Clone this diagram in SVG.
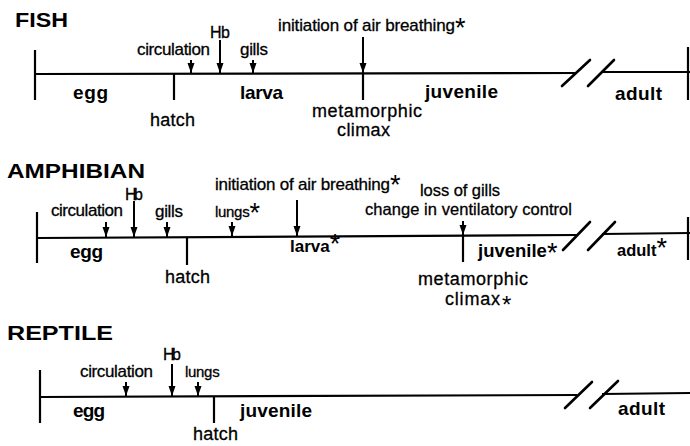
<svg xmlns="http://www.w3.org/2000/svg" width="690" height="446" viewBox="0 0 690 446">
<defs>
<marker id="ah" markerUnits="userSpaceOnUse" markerWidth="11" markerHeight="8" refX="10" refY="3.5" orient="auto">
<path d="M0,0 L10,3.5 L0,7 z" fill="#000"/>
</marker>
<style>
.t{font-family:"Liberation Sans",Arial,sans-serif;fill:#000}
.title{font-size:21px;font-weight:bold}
.lab{font-size:17px;stroke:#000;stroke-width:0.3}
.hb{font-size:16px;stroke:#000;stroke-width:0.3}
.stage{font-size:19px;font-weight:bold}
.ast{font-size:27px;stroke:none;font-weight:normal;letter-spacing:0}
.axis{stroke:#000;stroke-width:2.2;fill:none}
.tick{stroke:#000;stroke-width:2.2}
.brk{stroke:#000;stroke-width:2.6;stroke-linecap:round}
.arr{stroke:#000;stroke-width:2;marker-end:url(#ah)}
</style>
</defs>
<rect width="690" height="446" fill="#fff"/>

<!-- FISH -->
<g id="fish">
<text class="t title" x="15" y="27" textLength="53" lengthAdjust="spacingAndGlyphs">FISH</text>
<path class="axis" d="M35,74 L577,73 M602,72 L690,72"/>
<line class="tick" x1="35" y1="50" x2="35" y2="100"/>
<line class="tick" x1="688" y1="47" x2="688" y2="100"/>
<line class="brk" x1="562" y1="86" x2="590" y2="60"/>
<line class="brk" x1="588" y1="86" x2="614" y2="60"/>
</g>
<g id="fish-circulation"><text class="t lab" x="137" y="55" textLength="73">circulation</text></g>
<g id="fish-hb"><text class="t hb" x="210" y="38" textLength="20">Hb</text></g>
<g id="fish-gills"><text class="t lab" x="240" y="55" textLength="28">gills</text></g>
<g id="fish-air"><text class="t lab" x="278" y="31" textLength="177">initiation of air breathing</text><text class="t ast" x="455" y="36.5">*</text></g>
<g id="fish-egg"><text class="t stage" x="73" y="99" textLength="35">egg</text></g>
<g id="fish-hatch"><line class="tick" x1="174" y1="74" x2="174" y2="100"/><text class="t lab" x="150" y="126" textLength="45" style="font-size:18px">hatch</text></g>
<g id="fish-larva"><text class="t stage" x="240" y="99" textLength="43">larva</text></g>
<g id="fish-meta"><line class="tick" x1="363" y1="74" x2="363" y2="100"/><text class="t lab" x="312" y="117" textLength="110" style="font-size:18px">metamorphic</text><text class="t lab" x="337" y="136" textLength="53" style="font-size:18px">climax</text></g>
<g id="fish-juvenile"><text class="t stage" x="425" y="98" textLength="73">juvenile</text></g>
<g id="fish-adult"><text class="t stage" x="615" y="100" textLength="47">adult</text></g>

<!-- AMPHIBIAN -->
<g id="amphibian">
<text class="t title" x="7" y="178" textLength="138" lengthAdjust="spacingAndGlyphs">AMPHIBIAN</text>
<path class="axis" d="M37,238 L577,235 M602,234 L690,233"/>
<line class="tick" x1="37" y1="212" x2="37" y2="263"/>
<line class="tick" x1="688" y1="217" x2="688" y2="260"/>
<line class="brk" x1="563" y1="250" x2="590" y2="222"/>
<line class="brk" x1="588" y1="250" x2="615" y2="222"/>
</g>
<g id="amph-circulation"><text class="t lab" x="51" y="216" textLength="72">circulation</text></g>
<g id="amph-hb"><text class="t hb" x="125" y="200" textLength="18">Hb</text></g>
<g id="amph-gills"><text class="t lab" x="155" y="217" textLength="28">gills</text></g>
<g id="amph-lungs"><text class="t lab" x="215" y="217" style="font-size:15px;letter-spacing:-0.3px">lungs<tspan class="ast" dy="5.3">*</tspan></text></g>
<g id="amph-air"><text class="t lab" x="215" y="190" textLength="175">initiation of air breathing</text><text class="t ast" x="390" y="194">*</text></g>
<g id="amph-egg"><text class="t stage" x="70" y="258" textLength="33">egg</text></g>
<g id="amph-hatch"><line class="tick" x1="187" y1="238" x2="187" y2="265"/><text class="t lab" x="165" y="283" textLength="45" style="font-size:18px">hatch</text></g>
<g id="amph-larva"><text class="t stage" x="290" y="252" style="font-size:17px">larva<tspan class="ast" dy="0.5">*</tspan></text></g>
<g id="amph-gillsloss"><text class="t lab" x="420" y="196" textLength="80" style="font-size:16.5px">loss of gills</text><text class="t lab" x="365" y="215" textLength="207" style="font-size:16.5px">change in ventilatory control</text></g>
<g id="amph-meta"><line class="tick" x1="463" y1="236" x2="463" y2="262"/><text class="t lab" x="418" y="285" textLength="110" style="font-size:18px">metamorphic</text><text class="t lab" x="445" y="305" textLength="55" style="font-size:18px">climax</text><text class="t ast" x="502" y="313" style="font-size:24px">*</text></g>
<g id="amph-juvenile"><text class="t stage" x="478" y="257" style="font-size:18.5px">juvenile<tspan class="ast" dy="4.5">*</tspan></text></g>
<g id="amph-adult"><text class="t stage" x="617" y="256" style="font-size:16.5px">adult<tspan class="ast" dy="0.5">*</tspan></text></g>

<!-- REPTILE -->
<g id="reptile">
<text class="t title" x="7" y="340" textLength="106" lengthAdjust="spacingAndGlyphs">REPTILE</text>
<path class="axis" d="M40,397 L577,395 M602,394 L690,393"/>
<line class="tick" x1="40" y1="370" x2="40" y2="423"/>
<line class="brk" x1="565" y1="408" x2="592" y2="382"/>
<line class="brk" x1="590" y1="408" x2="618" y2="381"/>
</g>
<g id="rep-circulation"><text class="t lab" x="80" y="377" textLength="73">circulation</text></g>
<g id="rep-hb"><text class="t hb" x="163" y="360" textLength="18">Hb</text></g>
<g id="rep-lungs"><text class="t lab" x="185" y="377" style="font-size:15px;letter-spacing:-0.3px">lungs</text></g>
<g id="rep-egg"><text class="t stage" x="73" y="417" textLength="32">egg</text></g>
<g id="rep-hatch"><line class="tick" x1="214" y1="397" x2="214" y2="423"/><text class="t lab" x="193" y="440" textLength="45" style="font-size:18px">hatch</text></g>
<g id="rep-juvenile"><text class="t stage" x="240" y="417" textLength="72">juvenile</text></g>
<g id="rep-adult"><text class="t stage" x="618" y="415" textLength="47">adult</text></g>

<!-- connectors -->
<g id="connectors">
<line class="arr" x1="191" y1="60" x2="191" y2="73"/>
<line class="arr" x1="220" y1="40" x2="220" y2="73"/>
<line class="arr" x1="253" y1="60" x2="253" y2="73"/>
<line class="arr" x1="363" y1="37" x2="363" y2="73"/>
<line class="arr" x1="106" y1="222" x2="106" y2="237"/>
<line class="arr" x1="134" y1="201" x2="134" y2="237"/>
<line class="arr" x1="167" y1="222" x2="167" y2="237"/>
<line class="arr" x1="232" y1="222" x2="232" y2="236"/>
<line class="arr" x1="297" y1="200" x2="297" y2="236"/>
<line class="arr" x1="463" y1="221" x2="463" y2="235"/>
<line class="arr" x1="126" y1="382" x2="126" y2="396"/>
<line class="arr" x1="172" y1="364" x2="172" y2="396"/>
<line class="arr" x1="198" y1="382" x2="198" y2="396"/>
</g>
</svg>
